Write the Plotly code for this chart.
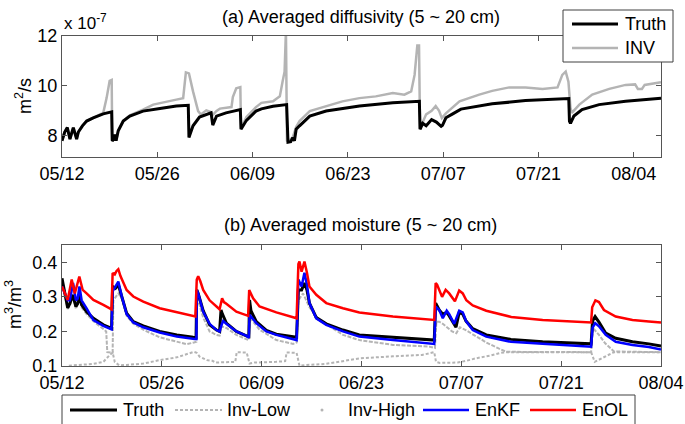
import pandas as pd
import plotly.graph_objects as go

BASE = pd.Timestamp("2010-05-12")

def to_dates(days):
    return [BASE + pd.Timedelta(days=d) for d in days]

# ---------------- Panel (a): averaged diffusivity (x 1e-7 m2/s) ----------------
truth_a_day = [0.0, 0.4, 0.78, 1.17, 1.66, 2.15, 2.4, 2.64, 3.0, 3.62, 4.59, 6.06, 7.30, 7.38, 7.6, 7.77, 7.95,
               8.26, 9.0, 9.97, 11.9, 14.4, 16.8, 18.55, 18.65, 19.25, 20.2, 21.9, 22.15, 22.7, 24.1, 26.2,
               26.3, 27.1, 28.5, 29.3, 31.0, 33.0, 33.2, 33.6, 33.9, 34.15, 34.4, 34.9, 36.4, 38.8, 43.7,
               48.6, 52.5, 52.6, 53.0, 53.5, 54.3, 55.0, 55.7, 55.9, 56.4, 57.4, 58.6, 63.2, 68.1, 74.45,
               74.55, 74.7, 75.2, 76.4, 78.9, 82.8, 88.0]
truth_a_val = [7.80, 8.15, 8.33, 7.87, 8.33, 7.87, 8.15, 8.26, 8.40, 8.59, 8.72, 8.88, 8.96, 7.80, 7.85, 8.05, 7.80,
               8.20, 8.59, 8.79, 8.99, 9.09, 9.19, 9.22, 7.93, 8.40, 8.75, 8.92, 8.43, 8.79, 8.92, 9.05,
               8.26, 8.62, 8.99, 9.08, 9.18, 9.25, 7.74, 7.76, 7.93, 7.80, 8.26, 8.40, 8.79, 8.99, 9.19,
               9.32, 9.38, 8.26, 8.50, 8.40, 8.65, 8.55, 8.38, 8.42, 8.72, 8.88, 9.07, 9.28, 9.41, 9.49,
               8.59, 8.50, 8.79, 9.05, 9.25, 9.38, 9.51]

inv_a_day = [0.0, 0.4, 0.78, 1.17, 1.66, 2.15, 2.4, 2.64, 3.0, 3.62, 4.59, 6.06, 6.55, 7.0, 7.3, 7.38, 7.6, 7.77,
             7.95, 8.26, 9.0, 9.97, 11.9, 13.4, 16.8, 17.8, 18.2, 18.65, 19.25, 20.0, 20.4, 21.2, 21.9, 22.2,
             22.7, 23.2, 24.9, 25.1, 25.6, 26.2, 26.3, 27.1, 28.5, 29.3, 31.0, 32.0, 32.4, 32.7, 32.9, 33.05,
             33.2, 33.9, 34.4, 34.9, 36.4, 38.8, 41.2, 43.7, 46.1, 48.6, 50.3, 51.3, 51.8, 52.2, 52.45, 52.6,
             53.5, 54.3, 54.9, 55.4, 55.8, 56.4, 57.3, 58.4, 61.3, 63.2, 65.7, 68.1, 70.6, 72.8, 73.5, 74.0,
             74.4, 74.7, 74.9, 76.0, 77.9, 80.4, 82.8, 84.2, 84.6, 85.2, 85.6, 88.0]
inv_a_val = [7.80, 8.15, 8.33, 7.87, 8.33, 7.87, 8.15, 8.26, 8.40, 8.59, 8.72, 8.92, 9.51, 10.20, 10.24, 7.83, 7.85, 8.05,
             7.80, 8.20, 8.60, 8.82, 9.05, 9.25, 9.45, 9.51, 10.54, 10.50, 9.78, 8.99, 8.85, 9.02, 8.95, 8.85,
             9.00, 9.09, 9.15, 9.55, 9.90, 9.95, 8.30, 8.75, 9.15, 9.32, 9.38, 9.58, 10.17, 10.57, 12.20, 7.80,
             7.76, 7.95, 8.35, 8.59, 8.99, 9.19, 9.38, 9.51, 9.58, 9.71, 9.65, 9.78, 10.44, 11.62, 11.62, 8.30,
             8.86, 9.00, 9.19, 9.00, 8.71, 8.90, 9.10, 9.38, 9.65, 9.80, 9.94, 9.94, 9.88, 9.94, 10.44, 10.57,
             10.17, 9.12, 8.92, 9.25, 9.65, 9.88, 10.04, 10.06, 9.88, 9.88, 10.04, 10.15]

# ---------------- Panel (b): averaged moisture (m3/m3) ----------------
truth_b_day = [0.0, 0.4, 0.8, 1.1, 1.5, 1.95, 2.2, 2.45, 2.75, 3.45, 4.4, 5.8, 6.95, 7.1, 7.5, 7.9, 8.4, 9.06,
               10.0, 11.4, 13.7, 16.1, 18.4, 18.8, 18.9, 19.1, 19.8, 20.7, 21.66, 22.1, 22.3, 22.5, 23.05,
               24.45, 25.86, 26.2, 26.3, 26.5, 27.25, 28.66, 30.06, 32.9, 33.15, 33.6, 34.0, 34.35, 34.7,
               35.66, 37.06, 39.4, 41.7, 46.4, 52.2, 52.4, 52.9, 53.4, 53.95, 54.3, 55.25, 55.7, 56.2, 56.66,
               57.6, 59.5, 61.3, 62.96, 67.4, 74.2, 74.4, 74.76, 75.3, 76.25, 77.65, 80.0, 82.3, 84.0]
truth_b_val = [0.354, 0.310, 0.268, 0.280, 0.306, 0.272, 0.280, 0.306, 0.277, 0.257, 0.238, 0.219, 0.209, 0.330, 0.325, 0.335, 0.300, 0.253,
               0.228, 0.216, 0.200, 0.190, 0.183, 0.182, 0.320, 0.310, 0.260, 0.219, 0.204, 0.200, 0.262, 0.250, 0.224,
               0.200, 0.187, 0.185, 0.291, 0.260, 0.228, 0.203, 0.192, 0.183, 0.320, 0.320, 0.340, 0.320, 0.282,
               0.240, 0.222, 0.204, 0.190, 0.183, 0.175, 0.282, 0.262, 0.250, 0.255, 0.245, 0.212, 0.255, 0.250, 0.230,
               0.208, 0.190, 0.183, 0.177, 0.170, 0.164, 0.230, 0.243, 0.227, 0.195, 0.180, 0.170, 0.164, 0.158]

invlow_b_day = [0.0, 0.85, 0.95, 4.4, 5.8, 6.7, 7.1, 7.4, 8.0, 9.06, 11.4, 13.7, 16.1, 17.9, 18.5, 18.9, 19.3, 20.3,
                21.1, 21.5, 24.3, 24.5, 25.9, 26.3, 27.0, 30.0, 31.3, 31.5, 32.9, 33.3, 34.3, 37.0, 40.3, 41.7,
                46.4, 50.5, 52.2, 52.45, 53.0, 55.5, 56.7, 58.0, 60.0, 61.5, 62.3, 74.2, 74.7, 77.4, 84.0]
invlow_b_val = [0.080, 0.098, 0.101, 0.106, 0.112, 0.132, 0.139, 0.112, 0.102, 0.103, 0.107, 0.117, 0.125, 0.137, 0.141, 0.138, 0.127, 0.117,
                0.115, 0.110, 0.112, 0.140, 0.139, 0.107, 0.110, 0.112, 0.114, 0.139, 0.138, 0.101, 0.103, 0.106, 0.117, 0.122,
                0.128, 0.132, 0.140, 0.112, 0.109, 0.110, 0.115, 0.122, 0.130, 0.138, 0.140, 0.140, 0.112, 0.140, 0.140]

invhigh_b_day = [0.0, 0.8, 1.1, 1.5, 1.95, 2.45, 2.75, 3.45, 4.4, 5.8, 6.2, 6.35, 7.1, 7.2, 7.9, 8.4, 9.06, 10.0,
                 11.4, 13.7, 16.1, 17.5, 18.5, 18.85, 18.95, 19.8, 20.7, 21.66, 22.1, 22.4, 23.05, 24.45, 25.9,
                 26.2, 26.35, 27.7, 30.06, 32.4, 32.9, 33.15, 33.8, 34.7, 36.0, 39.4, 41.7, 46.4, 51.5, 52.3,
                 52.5, 52.9, 53.4, 54.7, 55.3, 55.8, 56.7, 57.6, 59.5, 61.3, 62.3, 74.2, 74.45, 75.3, 76.2, 77.4, 84.0]
invhigh_b_val = [0.345, 0.265, 0.275, 0.300, 0.265, 0.300, 0.270, 0.250, 0.230, 0.205, 0.200, 0.140, 0.139, 0.290, 0.310, 0.295, 0.245, 0.222,
                 0.205, 0.183, 0.170, 0.163, 0.168, 0.170, 0.300, 0.240, 0.200, 0.190, 0.188, 0.215, 0.210, 0.190, 0.177,
                 0.175, 0.240, 0.205, 0.175, 0.164, 0.168, 0.290, 0.310, 0.270, 0.235, 0.190, 0.175, 0.161, 0.156, 0.152,
                 0.228, 0.228, 0.222, 0.200, 0.195, 0.212, 0.203, 0.192, 0.168, 0.150, 0.141, 0.140, 0.210, 0.190, 0.165, 0.142, 0.140]

enkf_b_day = [0.0, 0.8, 1.1, 1.55, 1.95, 2.2, 2.45, 2.75, 3.45, 4.4, 5.8, 6.95, 7.1, 7.5, 7.9, 8.4, 9.06, 10.0,
              11.4, 13.7, 16.1, 18.6, 18.85, 18.9, 19.1, 19.8, 20.7, 21.66, 22.1, 22.4, 22.6, 23.05, 24.45,
              25.86, 26.2, 26.3, 26.6, 27.25, 28.66, 30.06, 32.9, 33.15, 33.6, 34.0, 34.35, 34.7, 35.66, 37.06,
              39.4, 41.7, 46.4, 52.2, 52.4, 52.9, 53.4, 53.95, 54.3, 55.0, 55.7, 56.2, 56.66, 57.6, 59.5, 61.3,
              62.96, 67.4, 74.2, 74.4, 74.76, 75.3, 76.25, 77.65, 80.0, 82.3, 84.0]
enkf_b_val = [0.330, 0.290, 0.290, 0.340, 0.290, 0.295, 0.330, 0.290, 0.267, 0.233, 0.216, 0.206, 0.316, 0.330, 0.344, 0.300, 0.250, 0.226,
              0.212, 0.197, 0.185, 0.178, 0.178, 0.320, 0.310, 0.257, 0.222, 0.204, 0.200, 0.220, 0.230, 0.222, 0.200,
              0.187, 0.182, 0.248, 0.240, 0.224, 0.200, 0.190, 0.175, 0.350, 0.330, 0.370, 0.335, 0.282, 0.238, 0.219,
              0.200, 0.185, 0.175, 0.164, 0.272, 0.262, 0.238, 0.260, 0.250, 0.222, 0.260, 0.255, 0.230, 0.204, 0.185, 0.178,
              0.170, 0.164, 0.156, 0.210, 0.224, 0.215, 0.190, 0.170, 0.161, 0.155, 0.148]

enol_b_day = [0.0, 0.8, 1.36, 1.8, 2.43, 2.9, 3.45, 4.4, 5.8, 6.95, 7.1, 7.4, 7.65, 7.9, 8.2, 8.5, 9.06, 10.0,
              11.4, 13.7, 16.1, 18.7, 18.9, 19.1, 19.4, 19.8, 20.7, 22.1, 22.45, 22.7, 23.05, 24.45, 26.1,
              26.25, 26.8, 27.7, 30.06, 32.9, 33.15, 33.3, 33.6, 34.0, 34.35, 34.7, 35.66, 37.06, 39.4, 41.7,
              46.4, 52.2, 52.4, 52.6, 53.3, 53.8, 54.3, 55.1, 55.7, 56.2, 56.7, 57.6, 59.5, 61.3, 63.0, 67.4,
              74.2, 74.35, 74.8, 75.3, 76.0, 77.65, 80.0, 82.3, 84.0]
enol_b_val = [0.330, 0.291, 0.350, 0.310, 0.359, 0.320, 0.310, 0.291, 0.277, 0.264, 0.369, 0.365, 0.375, 0.380, 0.360, 0.345, 0.320, 0.301,
              0.286, 0.267, 0.255, 0.243, 0.350, 0.360, 0.345, 0.320, 0.290, 0.264, 0.296, 0.285, 0.280, 0.257, 0.245,
              0.320, 0.296, 0.272, 0.255, 0.238, 0.395, 0.402, 0.373, 0.402, 0.370, 0.330, 0.306, 0.282, 0.267, 0.255,
              0.243, 0.233, 0.340, 0.335, 0.300, 0.320, 0.310, 0.287, 0.318, 0.310, 0.290, 0.275, 0.260, 0.250, 0.242, 0.233,
              0.226, 0.270, 0.290, 0.285, 0.262, 0.243, 0.233, 0.229, 0.226]

tick_dates = ["2010-05-12", "2010-05-26", "2010-06-09", "2010-06-23", "2010-07-07", "2010-07-21", "2010-08-04"]
tick_text = ["05/12", "05/26", "06/09", "06/23", "07/07", "07/21", "08/04"]

GRAY = "#b4b4b4"
BLUE = "#0000ff"
RED = "#ff0000"
FONT = "Arial, Liberation Sans, Helvetica, sans-serif"
W, H = 685, 424

def px(x):
    return x / W

def py(y):
    return (H - y) / H

fig = go.Figure()

# panel (a)
fig.add_trace(go.Scatter(x=to_dates(inv_a_day), y=inv_a_val, mode="lines", name="INV",
                         line=dict(color=GRAY, width=2.5), xaxis="x", yaxis="y"))
fig.add_trace(go.Scatter(x=to_dates(truth_a_day), y=truth_a_val, mode="lines", name="Truth",
                         line=dict(color="black", width=3), xaxis="x", yaxis="y"))

# panel (b)
fig.add_trace(go.Scatter(x=to_dates(invlow_b_day), y=invlow_b_val, mode="lines", name="Inv-Low",
                         line=dict(color=GRAY, width=2, dash="3px,2px"), xaxis="x2", yaxis="y2"))
fig.add_trace(go.Scatter(x=to_dates(invhigh_b_day), y=invhigh_b_val, mode="lines", name="Inv-High",
                         line=dict(color=GRAY, width=2, dash="4px,1.5px"), xaxis="x2", yaxis="y2"))
fig.add_trace(go.Scatter(x=to_dates(truth_b_day), y=truth_b_val, mode="lines", name="Truth",
                         line=dict(color="black", width=3), xaxis="x2", yaxis="y2"))
fig.add_trace(go.Scatter(x=to_dates(enkf_b_day), y=enkf_b_val, mode="lines", name="EnKF",
                         line=dict(color=BLUE, width=2.5), xaxis="x2", yaxis="y2"))
fig.add_trace(go.Scatter(x=to_dates(enol_b_day), y=enol_b_val, mode="lines", name="EnOL",
                         line=dict(color=RED, width=2.5), xaxis="x2", yaxis="y2"))

axis_common = dict(showline=True, linecolor="#555555", linewidth=1, mirror="ticks",
                   ticks="inside", ticklen=5, tickcolor="#555555", showgrid=False, zeroline=False,
                   tickfont=dict(size=18, color="black", family=FONT))

xd = [px(62), px(661)]
fig.update_layout(
    width=W, height=H,
    margin=dict(l=0, r=0, t=0, b=0, autoexpand=False),
    paper_bgcolor="white", plot_bgcolor="white",
    font=dict(family=FONT, size=18, color="black"),
    showlegend=False,
    xaxis=dict(domain=xd, anchor="y", type="date", range=["2010-05-12", "2010-08-08"],
               tickvals=tick_dates, ticktext=tick_text, **axis_common),
    yaxis=dict(domain=[py(157), py(36)], anchor="x", range=[7.15, 12],
               tickvals=[8, 10, 12], ticktext=["8", "10", "12"], **axis_common),
    xaxis2=dict(domain=xd, anchor="y2", type="date", range=["2010-05-12", "2010-08-04"],
                tickvals=tick_dates, ticktext=tick_text, **axis_common),
    yaxis2=dict(domain=[py(366), py(245)], anchor="x2", range=[0.1, 0.45],
                tickvals=[0.1, 0.2, 0.3, 0.4], ticktext=["0.1", "0.2", "0.3", "0.4"], **axis_common),
)

def ann(text, x, y, xanchor="left", size=18, angle=0):
    fig.add_annotation(text=text, xref="paper", yref="paper", x=px(x), y=py(y),
                       xanchor=xanchor, yanchor="middle", showarrow=False, textangle=angle,
                       font=dict(size=size, family=FONT, color="black"))

def box(x0, y0, x1, y1):
    fig.add_shape(type="rect", xref="paper", yref="paper", x0=px(x0), x1=px(x1), y0=py(y1), y1=py(y0),
                  line=dict(color="#404040", width=1), fillcolor="white", layer="above")

def sample(x0, x1, y, color, width, dash="solid"):
    fig.add_shape(type="line", xref="paper", yref="paper", x0=px(x0), x1=px(x1), y0=py(y), y1=py(y),
                  line=dict(color=color, width=width, dash=dash), layer="above")

# titles and axis labels
ann("(a) Averaged diffusivity (5 ~ 20 cm)", 361, 17, xanchor="center")
ann("(b) Averaged moisture (5 ~ 20 cm)", 361, 225, xanchor="center")
ann("x 10<sup>-7</sup>", 62, 22, size=17)
ann("m<sup>2</sup>/s", 24, 96, xanchor="center", angle=-90)
ann("m<sup>3</sup>/m<sup>3</sup>", 13, 305, xanchor="center", angle=-90)

# legend for panel (a)
box(563, 10, 673, 62)
sample(572, 618, 24, "black", 3)
ann("Truth", 623, 24)
sample(572, 618, 48, GRAY, 2.5)
ann("INV", 623, 48)

# legend for panel (b)
box(62, 395, 635, 430)
sample(70, 117, 410, "black", 3)
ann("Truth", 121, 410)
sample(175, 222, 410, GRAY, 2, "3px,2px")
ann("Inv-Low", 225, 410)
fig.add_shape(type="circle", xref="paper", yref="paper", x0=px(320.5), x1=px(323.5), y0=py(411.5), y1=py(408.5),
              line=dict(color=GRAY, width=0), fillcolor=GRAY, layer="above")
ann("Inv-High", 346, 410)
sample(423, 469, 410, BLUE, 2.5)
ann("EnKF", 473, 410)
sample(530, 576, 410, RED, 2.5)
ann("EnOL", 580, 410)

fig.write_html("out.html")
